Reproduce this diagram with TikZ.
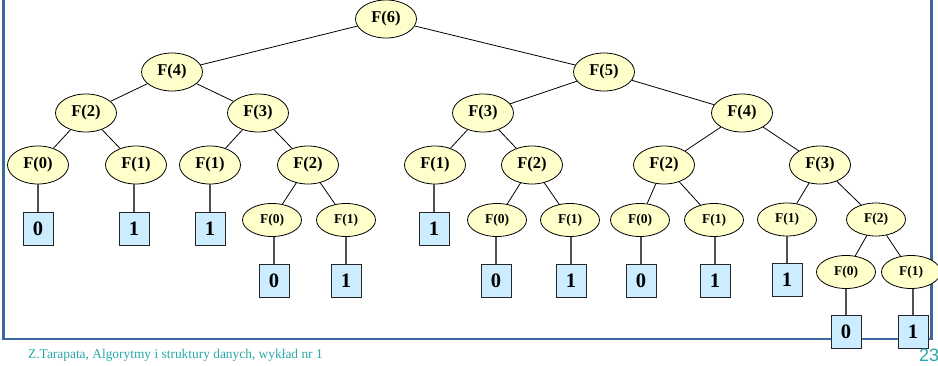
\documentclass[tikz,border=0pt]{standalone}
\usepackage{fontspec}
\setmainfont{Liberation Serif}
\newfontfamily\arialf{Liberation Sans}
\usetikzlibrary{shapes.geometric}
\definecolor{framec}{RGB}{58,104,160}
\definecolor{ellfill}{RGB}{255,255,204}
\definecolor{boxfill}{RGB}{204,236,255}
\definecolor{footc}{RGB}{40,168,168}
\definecolor{conn}{RGB}{80,80,80}
\tikzset{
  big/.style={ellipse,draw=black,line width=0.8pt,fill=ellfill,inner sep=0pt,
    minimum width=61pt,minimum height=38pt,font=\fontsize{16.5}{17}\selectfont\bfseries},
  small/.style={ellipse,draw=black,line width=0.8pt,fill=ellfill,inner sep=0pt,
    minimum width=59pt,minimum height=33pt,font=\fontsize{13.5}{14}\selectfont\bfseries},
  leaf/.style={rectangle,draw=black!85,line width=1pt,fill=boxfill,inner sep=0pt,
    minimum width=30pt,minimum height=33pt,font=\fontsize{20.5}{21}\selectfont\bfseries},
  tree/.style={draw=black,line width=0.8pt},
  stem/.style={draw=conn,line width=1.2pt}
}
\begin{document}
\begin{tikzpicture}[x=1pt,y=-1pt]
\useasboundingbox (0,0) rectangle (938,366);
\draw[framec,line width=2.8pt] (3.5,-10) rectangle (931.5,339);
% ellipses
\node[big] (A) at (386,19) {F(6)};
\node[big] (B) at (172,72) {F(4)};
\node[big] (C) at (604,72) {F(5)};
\node[big] (D) at (86,113) {F(2)};
\node[big] (E) at (258,113) {F(3)};
\node[big] (G) at (483,113) {F(3)};
\node[big] (H) at (742,113) {F(4)};
\node[big] (I1) at (38,165) {F(0)};
\node[big] (I2) at (136,165) {F(1)};
\node[big] (I3) at (210,165) {F(1)};
\node[big] (I4) at (308,165) {F(2)};
\node[big] (I5) at (435,165) {F(1)};
\node[big] (I6) at (532,165) {F(2)};
\node[big] (I7) at (664,165) {F(2)};
\node[big] (I8) at (820,165) {F(3)};
\node[small] (J1) at (272,220) {F(0)};
\node[small] (J2) at (346,220) {F(1)};
\node[small] (J3) at (497,220) {F(0)};
\node[small] (J4) at (570,220) {F(1)};
\node[small] (J5) at (640,220) {F(0)};
\node[small] (J6) at (714,220) {F(1)};
\node[small] (J7) at (787,219.5) {F(1)};
\node[small] (J8) at (876,219.5) {F(2)};
\node[small] (K1) at (846,272) {F(0)};
\node[small] (K2) at (911,272) {F(1)};
% tree edges
\draw[tree] (A) -- (B);
\draw[tree] (A) -- (C);
\draw[tree] (B) -- (D);
\draw[tree] (B) -- (E);
\draw[tree] (C) -- (G);
\draw[tree] (C) -- (H);
\draw[tree] (D) -- (I1);
\draw[tree] (D) -- (I2);
\draw[tree] (E) -- (I3);
\draw[tree] (E) -- (I4);
\draw[tree] (G) -- (I5);
\draw[tree] (G) -- (I6);
\draw[tree] (H) -- (I7);
\draw[tree] (H) -- (I8);
\draw[tree] (I4) -- (J1);
\draw[tree] (I4) -- (J2);
\draw[tree] (I6) -- (J3);
\draw[tree] (I6) -- (J4);
\draw[tree] (I7) -- (J5);
\draw[tree] (I7) -- (J6);
\draw[tree] (I8) -- (J7);
\draw[tree] (I8) -- (J8);
\draw[tree] (J8) -- (K1);
\draw[tree] (J8) -- (K2);
% leaves
\node[leaf] (b1) at (38,229) {0};
\node[leaf] (b2) at (134,229) {1};
\node[leaf] (b3) at (210,229) {1};
\node[leaf] (b4) at (434,229) {1};
\node[leaf] (b5) at (274,281) {0};
\node[leaf] (b6) at (346,281) {1};
\node[leaf] (b7) at (496,281) {0};
\node[leaf] (b8) at (571,281) {1};
\node[leaf] (b9) at (641,281) {0};
\node[leaf] (b10) at (715,281) {1};
\node[leaf] (b11) at (787,280) {1};
\node[leaf] (b12) at (846,332) {0};
\node[leaf] (b13) at (913,332) {1};
\foreach \e/\b in {I1/b1,I2/b2,I3/b3,I5/b4,J1/b5,J2/b6,J3/b7,J4/b8,J5/b9,J6/b10,J7/b11,K1/b12,K2/b13}
  \draw[stem] (\b.north) -- (\b.north |- \e.south);
% footer
\node[anchor=base west,inner sep=0pt,text=footc,font=\fontsize{13.4}{14}\selectfont] (foot) at (28,359) {Z.Tarapata, Algorytmy i struktury danych, wykład nr 1};
\node[anchor=base west,inner sep=0pt,text=footc,font=\arialf\fontsize{18}{18}\selectfont] (pg) at (919,362) {23};
\end{tikzpicture}
\end{document}
